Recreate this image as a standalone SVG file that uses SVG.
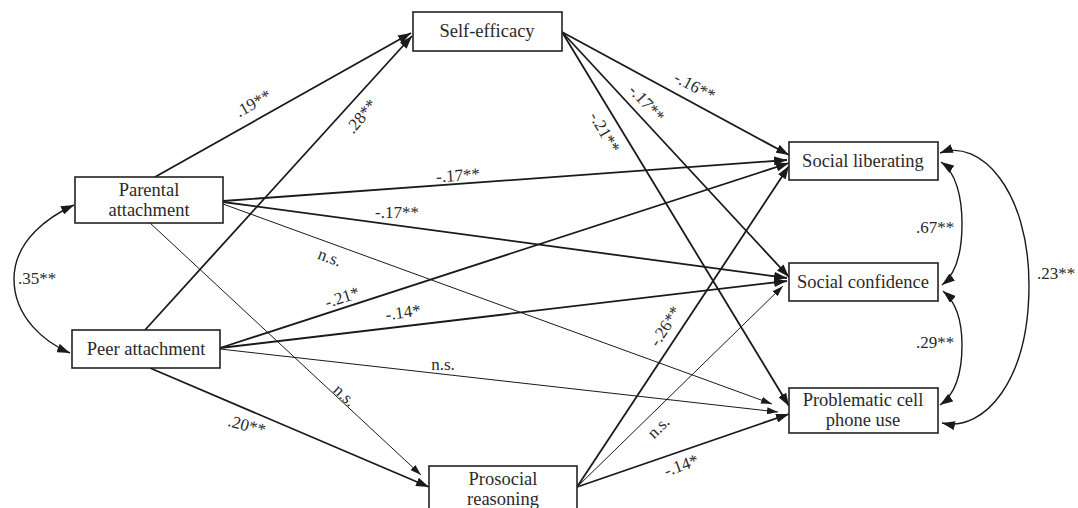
<svg xmlns="http://www.w3.org/2000/svg" width="1078" height="508" viewBox="0 0 1078 508">
<style>
.box{fill:#fff;stroke:#222;stroke-width:1.6}
.nt{font-family:"Liberation Serif","Times New Roman",serif;font-size:18.5px;fill:#2a2a2a;text-anchor:middle}
.lb{font-family:"Liberation Serif","Times New Roman",serif;font-size:17px;fill:#2a2a2a;text-anchor:middle}
.thick{fill:none;stroke:#1a1a1a;stroke-width:1.8;marker-end:url(#ah)}
.thin{fill:none;stroke:#1a1a1a;stroke-width:1;marker-end:url(#ahs)}
.cor{fill:none;stroke:#1a1a1a;stroke-width:1.4;marker-start:url(#ah);marker-end:url(#ah)}
</style>
<defs>
<marker id="ah" viewBox="0 0 13 9" refX="13" refY="4.5" markerWidth="13" markerHeight="9" markerUnits="userSpaceOnUse" orient="auto-start-reverse"><path d="M0,0 L13,4.5 L0,9 z" fill="#1a1a1a"/></marker>
<marker id="ahs" viewBox="0 0 11 7" refX="11" refY="3.5" markerWidth="11" markerHeight="7" markerUnits="userSpaceOnUse" orient="auto-start-reverse"><path d="M0,0 L11,3.5 L0,7 z" fill="#1a1a1a"/></marker>
</defs>
<rect width="1078" height="508" fill="#fff"/>
<g id="connectors">
<path class="thick" d="M155,177 L411,33"/>
<path class="thick" d="M145,330 L412,36"/>
<path class="thick" d="M223,201 L787,160"/>
<path class="thick" d="M223,202 L787,278"/>
<path class="thin" d="M223,204 L772,404"/>
<path class="thin" d="M150,223 L421,475"/>
<path class="thick" d="M220,348 L789,163"/>
<path class="thick" d="M220,348 L787,281"/>
<path class="thin" d="M220,349 L778,412"/>
<path class="thick" d="M150,368 L429,487"/>
<path class="thick" d="M562,32 L789,155"/>
<path class="thick" d="M562,32 L789,277"/>
<path class="thick" d="M562,32 L789,406"/>
<path class="thick" d="M577,487 L789,166"/>
<path class="thin" d="M577,487 L783,286"/>
<path class="thick" d="M577,487 L789,414"/>
<path class="cor" d="M74,205 C50,216 14,240 14,279 C14,318 46,343 70,353"/>
<path class="cor" d="M941,162 C956,172 962,197 962,224 C962,252 956,274 942,285"/>
<path class="cor" d="M943,291 C956,302 962,320 962,345 C962,372 956,394 940,405"/>
<path class="cor" d="M940,153 C980,138 1029,190 1029,285 C1029,380 985,432 942,423"/>
<g id="labels">
<text class="lb" transform="translate(253,103) rotate(-29)" dy="6">.19**</text>
<text class="lb" transform="translate(361,116) rotate(-50)" dy="6">.28**</text>
<text class="lb" transform="translate(695,86) rotate(28)" dy="6">-.16**</text>
<text class="lb" transform="translate(647,103) rotate(47)" dy="6">-.17**</text>
<text class="lb" transform="translate(605,132) rotate(60)" dy="6">-.21**</text>
<text class="lb" transform="translate(458,175) rotate(-4)" dy="6">-.17**</text>
<text class="lb" transform="translate(397,212)" dy="6">-.17**</text>
<text class="lb" transform="translate(330,257) rotate(20)" dy="6">n.s.</text>
<text class="lb" transform="translate(342,297) rotate(-18)" dy="6">-.21*</text>
<text class="lb" transform="translate(403,312) rotate(-8)" dy="6">-.14*</text>
<text class="lb" transform="translate(443,364)" dy="6">n.s.</text>
<text class="lb" transform="translate(345,395) rotate(43)" dy="6">n.s.</text>
<text class="lb" transform="translate(247,425) rotate(15)" dy="6">.20**</text>
<text class="lb" transform="translate(665,326) rotate(-57)" dy="6">-.26**</text>
<text class="lb" transform="translate(658,427) rotate(-45)" dy="6">n.s.</text>
<text class="lb" transform="translate(681,465) rotate(-20)" dy="6">-.14*</text>
<text class="lb" x="935" y="233">.67**</text>
<text class="lb" x="935" y="348">.29**</text>
<text class="lb" x="1056" y="279">.23**</text>
<text class="lb" x="37" y="284">.35**</text>
</g>
</g>
<g id="parental">
<rect class="box" x="75" y="177" width="148" height="46"/>
<text class="nt" x="149" y="196">Parental</text>
<text class="nt" x="149" y="216">attachment</text>
</g>
<g id="peer">
<rect class="box" x="72" y="330" width="148" height="38"/>
<text class="nt" x="146" y="355">Peer attachment</text>
</g>
<g id="selfefficacy">
<rect class="box" x="413" y="12" width="149" height="39"/>
<text class="nt" x="487" y="37">Self-efficacy</text>
</g>
<g id="prosocial">
<rect class="box" x="429" y="466" width="148" height="56"/>
<text class="nt" x="503" y="485">Prosocial</text>
<text class="nt" x="503" y="505">reasoning</text>
</g>
<g id="socliberating">
<rect class="box" x="789" y="142" width="149" height="38"/>
<text class="nt" x="863" y="167">Social liberating</text>
</g>
<g id="socconfidence">
<rect class="box" x="789" y="263" width="149" height="38"/>
<text class="nt" x="863" y="288">Social confidence</text>
</g>
<g id="pcpu">
<rect class="box" x="789" y="388" width="149" height="45"/>
<text class="nt" x="863" y="406">Problematic cell</text>
<text class="nt" x="863" y="426">phone use</text>
</g>
</svg>
